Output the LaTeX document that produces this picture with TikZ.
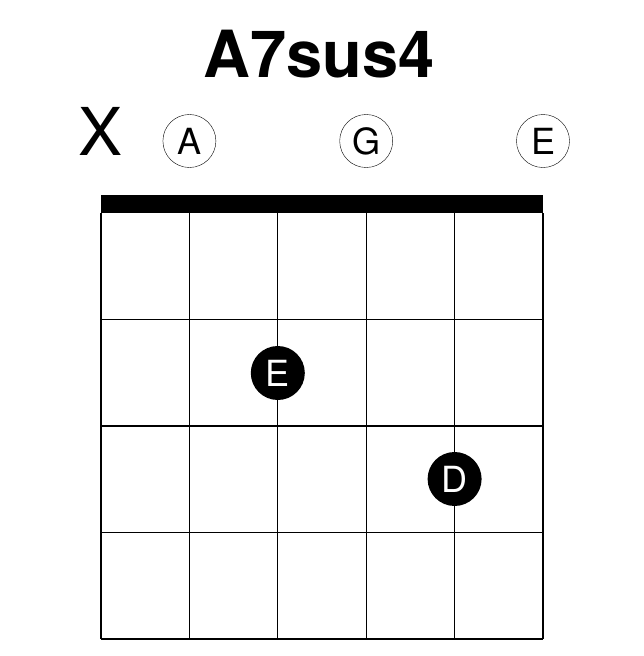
\documentclass[tikz,border=0pt]{standalone}
\usepackage{fontspec}
\setmainfont{TeX Gyre Heros}
\begin{document}
\begin{tikzpicture}[x=1pt,y=-1pt,
  open/.style={circle, draw, thin, minimum size=53pt, inner sep=0pt, font=\fontsize{36}{36}\selectfont},
  finger/.style={circle, fill=black, text=white, minimum size=54pt, inner sep=0pt, font=\fontsize{36}{36}\selectfont}]
\useasboundingbox (0,0) rectangle (644,656);
\node[anchor=base, font=\bfseries\fontsize{65}{65}\selectfont] (title) at (319,77) {A7sus4};
\node[anchor=base, font=\fontsize{66}{66}\selectfont] (mute) at (100.5,155) {X};
\fill (101,195) rectangle (543,213);
\foreach \s in {0,...,5}
    \draw[line width=1.2pt] (101+88.4*\s,213) -- (101+88.4*\s,639);
\foreach \f in {1,...,4}
    \draw[line width=1.2pt] (101,213+106.5*\f) -- (543,213+106.5*\f);
\node[open] (A) at (189.4,141) {A};
\node[open] (G) at (366.2,141) {G};
\node[open] (E) at (543,141) {E};
\node[finger] (fE) at (277.8,373) {E};
\node[finger] (fD) at (454.6,479) {D};
\end{tikzpicture}
\end{document}
